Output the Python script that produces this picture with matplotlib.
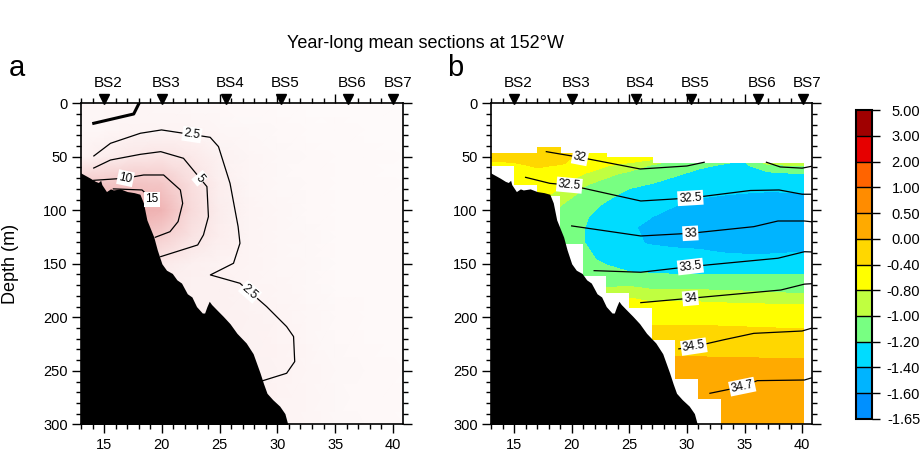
import numpy as np
import matplotlib
matplotlib.use('Agg')
import matplotlib.pyplot as plt
from matplotlib.colors import ListedColormap, BoundaryNorm, LinearSegmentedColormap
from matplotlib.cm import ScalarMappable
from matplotlib.ticker import MultipleLocator
from matplotlib.transforms import offset_copy

plt.rcParams['font.family'] = ['Liberation Sans', 'DejaVu Sans']

nan = np.nan

# stations along the section (km)
station_names = ['BS2', 'BS3', 'BS4', 'BS5', 'BS6', 'BS7']
station_x = [15.0, 20.0, 25.55, 30.35, 36.15, 40.05]

# bottom topography (distance km, depth m)
bathy_x = [12.8, 13.8, 14.25, 14.5, 14.7, 14.8, 15.2, 15.55, 15.8, 16.4, 17.0, 17.6, 18.1,
           18.4, 18.7, 19.3, 19.6, 20.0, 20.4, 20.9, 21.3, 21.7, 22.2, 22.6, 23.0, 23.5,
           23.7, 23.9, 24.1, 24.3, 24.75, 25.3, 25.9, 26.5, 27.3, 27.9, 28.2, 28.5, 28.8,
           29.1, 29.6, 30.2, 30.65, 30.9]
bathy_d = [64, 70, 73, 74, 72, 76, 82.5, 80, 81, 80, 82.5, 83.5, 85,
           93, 109, 125, 137, 150, 156, 159, 165, 168, 178, 181, 190, 196,
           196, 190, 185, 188, 193, 199, 206, 215, 224, 234, 243, 252, 262,
           271, 277, 283, 290, 300]

# ---- panel a: mean concentration field (grid) ----
a_x = [13, 15, 17.5, 20, 22.5, 25, 27.5, 30, 32.5, 35, 37.5, 40.9]
a_depth = [0, 25, 50, 75, 100, 125, 150, 175, 200, 250, 300]
a_conc = [
    [2.0, 2.0, 2.0, 1.8, 1.6, 1.5, 1.3, 1.2, 1.1, 1.0, 1.0, 0.9],
    [1.8, 2.0, 2.3, 2.5, 2.4, 2.0, 1.7, 1.5, 1.3, 1.2, 1.1, 1.0],
    [2.5, 3.8, 5.2, 5.8, 4.6, 2.8, 2.1, 1.7, 1.5, 1.3, 1.2, 1.1],
    [11, 12, 12.5, 12, 7, 3.5, 2.2, 1.8, 1.5, 1.4, 1.2, 1.1],
    [16, 17, 17, 16, 8, 4, 2.3, 1.9, 1.6, 1.4, 1.3, 1.2],
    [14, 14, 13, 10, 6, 3.8, 2.3, 2.0, 1.7, 1.4, 1.3, 1.2],
    [8, 8, 7, 4.5, 3.2, 2.6, 2.3, 2.0, 1.7, 1.4, 1.3, 1.2],
    [5, 5, 4, 3.5, 3, 3, 2.5, 2.1, 1.7, 1.4, 1.3, 1.2],
    [4, 4, 4, 3.5, 3.2, 3.0, 2.9, 2.5, 2.0, 1.6, 1.4, 1.3],
    [3.5, 3.5, 3.5, 3.2, 3.0, 3.0, 2.9, 2.7, 2.1, 1.7, 1.5, 1.4],
    [3, 3, 3, 3, 3, 2.9, 2.8, 2.5, 2.1, 1.7, 1.5, 1.4],
]

# contour lines of panel a (x km, depth m)
c25_x = [14.11, 15.55, 18.14, 19.97, 24.18, 24.9, 25.9, 26.6, 26.76, 26.2, 24.2, 26.76,
         29.07, 30.8, 31.4, 31.5, 30.8, 28.66]
c25_d = [49.2, 37.4, 28.0, 24.9, 31.8, 40.5, 74.8, 115.3, 130.8, 149.5, 160.4, 168.2,
         190, 208.7, 218, 241.4, 252.3, 259.5]
c5_x = [14.1, 15.55, 18.14, 19.9, 21.87, 23.9, 24.03, 23.6, 23.1, 19.9]
c5_d = [60.5, 53, 47.7, 45.2, 51.4, 77.9, 105.9, 123, 132.4, 143.3]
c10_x = [14.1, 16.85, 18.42, 20.15, 21.6, 21.8, 21.4, 20.7, 19.43]
c10_d = [72, 70, 67, 67, 81, 93.5, 110.6, 120, 125.2]
c15_x = [15.8, 18.28, 19.14, 18.5]
c15_d = [80, 81, 89.7, 96]
surf_x = [14.1, 17.56, 18.0]
surf_d = [18.7, 10, 0.5]

a_lines = [(c25_x, c25_d), (c5_x, c5_d), (c10_x, c10_d), (c15_x, c15_d)]
# (text, line index, position, fixed rotation or None to follow the line)
a_labels = [('2.5', 0, (22.6, 29.2), None), ('2.5', 0, (27.63, 176.2), None),
            ('5', 1, (23.3, 70.0), None), ('10', 2, (16.85, 70), -12),
            ('15', 3, (19.14, 89.7), 0)]

# ---- panel b: temperature (grid, nan = no data) ----
t_x = [13, 15, 17, 19, 21, 23, 25, 27, 29, 31, 33, 35, 37, 39, 40.1]
t_depth = [41, 47, 50.5, 56, 58, 66, 76, 86, 96, 106, 116, 131, 146, 161, 177, 191,
           206, 221, 239, 257, 276, 300]
temp = [
    [nan, nan, -0.30, -0.33, nan, nan, nan, nan, nan, nan, nan, nan, nan, nan, nan],
    [-0.25, -0.22, -0.18, -0.25, -0.45, -0.50, nan, nan, nan, nan, nan, nan, nan, nan, nan],
    [-0.30, -0.28, -0.20, -0.27, -0.52, -0.58, -0.62, -0.70, nan, nan, nan, nan, nan, nan, nan],
    [-0.45, -0.42, -0.30, -0.35, -0.60, -0.72, -0.82, -0.95, -1.10, -1.15, -1.19, -1.22, -0.95, -0.90, -0.90],
    [-0.50, -0.46, -0.36, -0.42, -0.65, -0.78, -0.88, -1.02, -1.12, -1.17, -1.21, -1.23, -1.05, -1.00, -1.00],
    [nan, -0.55, -0.50, -0.60, -0.80, -0.95, -1.05, -1.12, -1.18, -1.24, -1.27, -1.29, -1.25, -1.22, -1.22],
    [nan, -0.65, -0.62, -0.76, -0.98, -1.08, -1.17, -1.21, -1.27, -1.32, -1.34, -1.36, -1.36, -1.35, -1.35],
    [nan, nan, -0.72, -0.88, -1.07, -1.16, -1.25, -1.30, -1.34, -1.38, -1.40, -1.41, -1.42, -1.42, -1.42],
    [nan, nan, nan, -1.00, -1.13, -1.23, -1.32, -1.36, -1.40, -1.45, -1.47, -1.48, -1.48, -1.48, -1.48],
    [nan, nan, nan, -1.07, -1.17, -1.30, -1.37, -1.40, -1.45, -1.49, -1.51, -1.52, -1.52, -1.52, -1.52],
    [nan, nan, nan, -1.12, -1.19, -1.33, -1.39, -1.42, -1.47, -1.50, -1.52, -1.53, -1.53, -1.53, -1.53],
    [nan, nan, nan, -1.16, -1.19, -1.32, -1.38, -1.41, -1.43, -1.44, -1.47, -1.48, -1.48, -1.47, -1.47],
    [nan, nan, nan, nan, -1.15, -1.24, -1.30, -1.32, -1.32, -1.33, -1.35, -1.36, -1.36, -1.35, -1.35],
    [nan, nan, nan, nan, -1.08, -1.12, -1.17, -1.18, -1.19, -1.19, -1.19, -1.19, -1.19, -1.19, -1.19],
    [nan, nan, nan, nan, nan, -0.95, -0.90, -0.96, -0.96, -0.96, -0.97, -0.98, -0.99, -1.01, -1.01],
    [nan, nan, nan, nan, nan, nan, -0.62, -0.70, -0.70, -0.70, -0.72, -0.73, -0.74, -0.75, -0.75],
    [nan, nan, nan, nan, nan, nan, nan, -0.43, -0.42, -0.42, -0.43, -0.44, -0.45, -0.46, -0.46],
    [nan, nan, nan, nan, nan, nan, nan, -0.20, -0.22, -0.22, -0.23, -0.24, -0.25, -0.26, -0.26],
    [nan, nan, nan, nan, nan, nan, nan, nan, 0.03, 0.03, 0.02, 0.02, 0.01, 0.01, 0.01],
    [nan, nan, nan, nan, nan, nan, nan, nan, 0.20, 0.20, 0.20, 0.20, 0.20, 0.20, 0.20],
    [nan, nan, nan, nan, nan, nan, nan, nan, nan, 0.30, 0.30, 0.30, 0.30, 0.30, 0.30],
    [nan, nan, nan, nan, nan, nan, nan, nan, nan, nan, 0.40, 0.40, 0.40, 0.40, 0.40],
]
t_levels = [-1.65, -1.60, -1.40, -1.20, -1.00, -0.80, -0.40, 0.00, 0.50, 1.00, 2.00, 3.00, 5.00]
t_colors = ['#0090ff', '#00b4ff', '#00dcff', '#78ff82', '#c0ff40', '#ffff00',
            '#ffd700', '#ffaa00', '#ff8c00', '#ff6400', '#e60000', '#a00000']

# salinity contour lines of panel b
s320_x = [17.8, 20.7, 25.95, 30.0, 31.5]
s320_d = [45.2, 50.5, 61.4, 58.6, 55.1]
s320b_x = [36.9, 38.1, 40.0, 41.0]
s320b_d = [55.1, 59.5, 60.6, 58.5]
s325_x = [16.0, 18.1, 19.8, 26.0, 30.3, 35.5, 38.0, 40.0, 41.0]
s325_d = [69.2, 74.8, 76.5, 91.3, 88.5, 81.5, 81, 85, 85]
s330_x = [20.0, 26.0, 30.3, 35.8, 37.9, 40.2, 41.0]
s330_d = [114.6, 124, 121.5, 115.3, 110, 110, 111]
s335_x = [21.95, 26.0, 30.3, 37.9, 40.2, 41.0]
s335_d = [156.4, 157.9, 152.6, 144.8, 138.7, 139]
s340_x = [26.0, 30.3, 38.15, 40.2, 41.0]
s340_d = [186.3, 182.2, 174.5, 169, 168.5]
s345_x = [29.3, 30.6, 33.2, 35.8, 40.0, 41.0]
s345_d = [229.5, 227.4, 221, 215, 212.8, 209.6]
s347_x = [32.0, 34.8, 36.1, 40.2, 41.0]
s347_d = [271, 264.8, 259.2, 258.6, 256]

b_lines = [(s320_x, s320_d), (s320b_x, s320b_d), (s325_x, s325_d), (s330_x, s330_d),
           (s335_x, s335_d), (s340_x, s340_d), (s345_x, s345_d), (s347_x, s347_d)]
b_labels = [('32', 0, (20.72, 50.6), None), ('32.5', 2, (19.8, 76.5), None),
            ('32.5', 2, (30.3, 88.5), None), ('33', 3, (30.3, 121.5), None),
            ('33.5', 4, (30.3, 152.6), None), ('34', 5, (30.3, 182.2), None),
            ('34.5', 6, (30.6, 227.4), None), ('34.7', 7, (34.8, 264.8), None)]


def style_axes(ax):
    ax.set_xlim(13, 40.88)
    ax.set_ylim(300, 0)
    ax.set_xticks([15, 20, 25, 30, 35, 40])
    ax.set_yticks(range(0, 301, 50))
    ax.xaxis.set_minor_locator(MultipleLocator(1))
    ax.yaxis.set_minor_locator(MultipleLocator(10))
    ax.tick_params(which='both', direction='out', top=True, right=True,
                   labeltop=False, labelright=False, width=1, labelsize=10.5, pad=3)
    ax.tick_params(which='major', length=6.5)
    ax.tick_params(which='minor', length=3.5)
    for s in ax.spines.values():
        s.set_linewidth(1.2)


def line_label(ax, xs, ds, pos, text, rot=None):
    # rotate the label along the nearest segment of the line
    if rot is None:
        pts = ax.transData.transform(np.column_stack([xs, ds]))
        p = ax.transData.transform(pos)
        best = None
        for i in range(len(pts) - 1):
            a, b = pts[i], pts[i + 1]
            ab = b - a
            t = np.clip(np.dot(p - a, ab) / np.dot(ab, ab), 0, 1)
            dist = np.hypot(*(a + t * ab - p))
            if best is None or dist < best[0]:
                best = (dist, ab)
        rot = np.degrees(np.arctan2(best[1][1], best[1][0]))
        if rot > 90:
            rot -= 180
        if rot < -90:
            rot += 180
    ax.text(pos[0], pos[1], text, rotation=rot, rotation_mode='anchor',
            ha='center', va='center', fontsize=8.5, zorder=6,
            bbox=dict(boxstyle='square,pad=0.12', fc='white', ec='none'))


def stations(ax):
    tr = offset_copy(ax.transData, fig=ax.figure, y=3.2, units='points')
    ax.plot(station_x, [0] * len(station_x), 'v', color='black', ms=7,
            transform=tr, clip_on=False, zorder=7)
    for name, x in zip(station_names, station_x):
        ax.annotate(name, (x, 0), xytext=(3, 14.5), textcoords='offset points',
                    ha='center', va='center', fontsize=11, annotation_clip=False)


fig = plt.figure(figsize=(9.24, 4.54), dpi=100)
ax_a = fig.add_axes([0.0877, 0.0654, 0.3485, 0.7071])
ax_b = fig.add_axes([0.5314, 0.0654, 0.3477, 0.7071])
cax = fig.add_axes([0.926, 0.0771, 0.0173, 0.6806])

# panel a
style_axes(ax_a)
pinks = LinearSegmentedColormap.from_list('pinks', ['#ffffff', '#e88a8a'])
AX, AD = np.meshgrid(a_x, a_depth)
ax_a.pcolormesh(AX, AD, np.array(a_conc), shading='gouraud', cmap=pinks, vmin=0, vmax=25,
                zorder=1)
for xs, ds in a_lines:
    ax_a.plot(xs, ds, color='black', lw=0.9, zorder=4)
ax_a.plot(surf_x, surf_d, color='black', lw=2.2, zorder=4)
for text, k, pos, rot in a_labels:
    line_label(ax_a, a_lines[k][0], a_lines[k][1], pos, text, rot)
ax_a.fill_between(bathy_x, bathy_d, 310, color='black', lw=0, zorder=5)
ax_a.set_ylabel('Depth (m)', fontsize=13)
ax_a.yaxis.set_label_coords(-0.194, 0.5)
stations(ax_a)

# panel b
style_axes(ax_b)
TX, TD = np.meshgrid(t_x, t_depth)
ax_b.contourf(TX, TD, np.ma.masked_invalid(np.array(temp)), levels=t_levels,
              colors=t_colors, corner_mask=False, zorder=1)
for xs, ds in b_lines:
    ax_b.plot(xs, ds, color='black', lw=0.9, zorder=4)
for text, k, pos, rot in b_labels:
    line_label(ax_b, b_lines[k][0], b_lines[k][1], pos, text, rot)
ax_b.fill_between(bathy_x, bathy_d, 310, color='black', lw=0, zorder=5)
stations(ax_b)

# colorbar
cmap = ListedColormap(t_colors)
norm = BoundaryNorm(t_levels, cmap.N)
cb = fig.colorbar(ScalarMappable(norm=norm, cmap=cmap), cax=cax, spacing='uniform',
                  drawedges=True, ticks=t_levels)
cb.set_ticklabels(['%.2f' % v for v in t_levels])
cb.outline.set_linewidth(1.5)
cb.dividers.set_linewidth(1.0)
cax.tick_params(length=6, width=1, labelsize=10.5, pad=29)
for lab in cax.get_yticklabels():
    lab.set_horizontalalignment('right')

# titles and panel letters
fig.text(0.46, 0.9035, 'Year-long mean sections at 152\u00b0W', ha='center', va='center',
         fontsize=13)
fig.text(0.009, 0.833, 'a', fontsize=21, va='baseline')
fig.text(0.4838, 0.833, 'b', fontsize=21, va='baseline')

fig.savefig('out.png', dpi=100)
